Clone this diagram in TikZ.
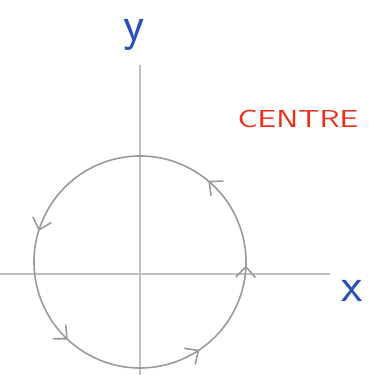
\documentclass[tikz,border=0pt]{standalone}
\usetikzlibrary{arrows.meta,decorations.markings}

\definecolor{penblue}{RGB}{40,80,185}
\definecolor{penred}{RGB}{235,45,25}

\begin{document}
\begin{tikzpicture}[x=0.02cm,y=0.02cm,
  axisline/.style={draw=gray!50,line width=0.7pt},
  pathline/.style={draw=gray!80,line width=0.9pt,
                   postaction={decorate},
                   decoration={markings,
                     mark=at position 0.078 with {\arrow{Straight Barb[length=6pt,width=11pt]}},
                     mark=at position 0.222 with {\arrow{Straight Barb[length=6pt,width=11pt]}},
                     mark=at position 0.536 with {\arrow{Straight Barb[length=6pt,width=11pt]}},
                     mark=at position 0.714 with {\arrow{Straight Barb[length=6pt,width=11pt]}},
                     mark=at position 0.928 with {\arrow{Straight Barb[length=6pt,width=11pt]}}}},
  axislabel/.style={font=\sffamily\fontsize{28}{28}\selectfont,text=penblue,inner sep=1pt},
  notelabel/.style={font=\sffamily\fontsize{14}{14}\selectfont,text=penred},
]
\useasboundingbox (0,0) rectangle (373,375);

% Origin and axis ends
\coordinate (O) at (140,113);
\coordinate (ytop) at (140,310);
\coordinate (ybot) at (140,0);
\coordinate (xleft) at (0,101);
\coordinate (xright) at (330,101);

% Axes
\draw[axisline] (ybot) -- (ytop);
\draw[axisline] (xleft) -- (xright);

% Closed path, counterclockwise
\draw[pathline] ([shift={(-30:106)}]O) arc[start angle=-30,end angle=330,radius=106];

% Labels
\node[axislabel] (ylabel) at (134,340) {y};
\node[axislabel] (xlabel) at (352,84) {x};
\node[notelabel,xscale=1.3] (centre) at (298,256) {CENTRE};

\end{tikzpicture}
\end{document}
